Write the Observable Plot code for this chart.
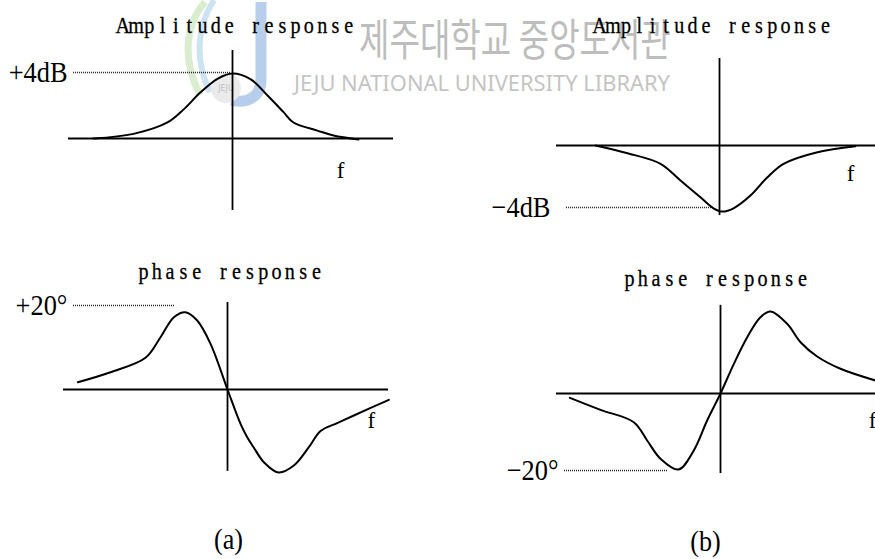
<!DOCTYPE html>
<html>
<head>
<meta charset="utf-8">
<script src="https://cdn.jsdelivr.net/npm/d3@7"></script>
<script src="https://cdn.jsdelivr.net/npm/@observablehq/plot@0.6"></script>
<style>
  html, body { margin: 0; padding: 0; background: #fff; overflow: hidden; }
  #fig { position: relative; width: 875px; height: 559px; }
  #fig > svg { position: absolute; left: 0; top: 0; }
</style>
</head>
<body>
<div id="fig"></div>
<script>
// Boost (a) and cut (b) equaliser responses around the centre frequency.
// f: frequency offset from the centre (arbitrary units), gain in dB, phase in degrees.
const ampA_f   = [-0.853, -0.607, -0.399, -0.301, -0.196, -0.092, 0, 0.110, 0.215, 0.313, 0.374, 0.521, 0.620, 0.773];
const ampA_dB  = [0, 0.28, 0.97, 1.75, 2.8, 3.62, 3.94, 3.6, 2.61, 1.6, 0.97, 0.48, 0.18, -0.06];

const ampB_f   = [-0.761, -0.564, -0.362, -0.239, -0.117, -0.037, 0.018, 0.086, 0.190, 0.294, 0.393, 0.601, 0.834];
const ampB_dB  = [0, -0.50, -1.18, -2.26, -3.34, -4.05, -4.26, -4.05, -3.23, -2.05, -1.18, -0.43, -0.05];

const phA_f    = [-0.918, -0.718, -0.503, -0.411, -0.329, -0.258, -0.186, -0.104, 0, 0.080, 0.121, 0.161, 0.223, 0.313, 0.407, 0.499, 0.571, 0.673, 0.775, 0.990];
const phA_deg  = [1.74, 4.12, 7.55, 12.45, 17.21, 18.40, 16.43, 10.88, 0, -8.17, -11.36, -13.8, -17.31, -19.76, -18.10, -13.74, -9.88, -8.0, -6.19, -2.45];

const phB_f    = [-0.924, -0.736, -0.532, -0.450, -0.368, -0.258, -0.164, -0.082, 0, 0.082, 0.164, 0.245, 0.307, 0.409, 0.491, 0.593, 0.736, 0.951];
const phB_deg  = [-1.12, -4.24, -7.45, -12.2, -16.96, -19.74, -14.8, -7.01, 0, 7.71, 14.62, 19.82, 21.3, 18.1, 13.3, 9.61, 6.42, 3.38];

const titles      = ["Amplitude response", "phase response"];
const levels      = [4, -4, 20, -20];
const levelLabels = ["+4dB", "−4dB", "+20°", "−20°"];
const captions    = ["(a)", "(b)"];
const axisName    = "f";

// Layout of the four panels: scale ranges place each one on the page.
const panels = [
  { f: ampA_f, v: ampA_dB, title: titles[0], level: levels[0], label: levelLabels[0],
    x: [232, 395], y: { domain: [0, 4], range: [138, 72] },
    hAxis: [-1.006, 0.988], vAxis: [-4.36, 5.33], guide: [-0.975, -0.012],
    labelAt: -1.012, titleAt: [0.02, 6.42], fAt: [0.663, -1.94] },
  { f: ampB_f, v: ampB_dB, title: titles[0], level: levels[1], label: levelLabels[1],
    x: [719, 882], y: { domain: [0, -4], range: [145, 207] },
    hAxis: [-1.0, 0.96], vAxis: [-4.52, 5.61], guide: [-0.939, -0.031],
    labelAt: -1.037, titleAt: [-0.043, 7.29], fAt: [0.804, -1.81] },
  { f: phA_f, v: phA_deg, title: titles[1], level: levels[2], label: levelLabels[2],
    x: [227, 390], y: { domain: [0, 20], range: [389, 305] },
    hAxis: [-1.006, 0.988], vAxis: [-19.5, 20.7], guide: [-0.945, -0.319],
    labelAt: -0.982, titleAt: [0.015, 26.4], fAt: [0.883, -7.38],
    caption: captions[0], captionAt: [0.006, -35.7] },
  { f: phB_f, v: phB_deg, title: titles[1], level: levels[3], label: levelLabels[3],
    x: [720, 883], y: { domain: [0, -20], range: [393, 470] },
    hAxis: [-1.006, 0.96], vAxis: [-20.8, 22.9], guide: [-0.957, -0.325],
    labelAt: -0.994, titleAt: [-0.028, 27.8], fAt: [0.933, -7.0],
    caption: captions[1], captionAt: [-0.092, -38.4] }
];

const serif = "'Liberation Serif', 'DejaVu Serif', serif";

function panel(p) {
  const curve = p.f.map((f, i) => ({ f, v: p.v[i] }));
  const marks = [
    // axes through the origin
    Plot.ruleY([{ y: 0, x1: p.hAxis[0], x2: p.hAxis[1] }], { y: "y", x1: "x1", x2: "x2", stroke: "#000", strokeWidth: 2 }),
    Plot.ruleX([{ x: 0, y1: p.vAxis[0], y2: p.vAxis[1] }], { x: "x", y1: "y1", y2: "y2", stroke: "#000", strokeWidth: 1.8 }),
    // dotted guide to the extreme value
    Plot.ruleY([{ y: p.level, x1: p.guide[0], x2: p.guide[1] }], { y: "y", x1: "x1", x2: "x2", stroke: "#222", strokeWidth: 1.3, strokeDasharray: "1,1" }),
    // response curve
    Plot.line(curve, { x: "f", y: "v", curve: "catmull-rom", stroke: "#000", strokeWidth: 2 }),
    Plot.text([{ x: p.titleAt[0], y: p.titleAt[1], t: p.title }], { x: "x", y: "y", text: "t", fontFamily: serif, fontSize: 24, lineAnchor: "bottom", textAnchor: "middle", fill: "#000", stroke: "#000", strokeWidth: 0.3 }),
    Plot.text([{ x: p.labelAt, y: p.level, t: p.label }], { x: "x", y: "y", text: "t", fontFamily: serif, fontSize: 30, textAnchor: "end", lineAnchor: "middle" }),
    Plot.text([{ x: p.fAt[0], y: p.fAt[1], t: axisName }], { x: "x", y: "y", text: "t", fontFamily: serif, fontSize: 23, textAnchor: "middle", lineAnchor: "middle" })
  ];
  if (p.caption) {
    marks.push(Plot.text([{ x: p.captionAt[0], y: p.captionAt[1], t: p.caption }], { x: "x", y: "y", text: "t", fontFamily: serif, fontSize: 29, textAnchor: "middle", lineAnchor: "middle" }));
  }
  const svg = Plot.plot({
    width: 875,
    height: 559,
    x: { domain: [0, 1], range: p.x, axis: null },
    y: { domain: p.y.domain, range: p.y.range, axis: null },
    style: { background: "transparent", overflow: "visible" },
    marks
  });
  monospaceTitles(svg, 13.3, 0.84);
  narrow(svg, levelLabels, 0.88);
  narrow(svg, captions, 0.9);
  return svg;
}

// Narrow the glyphs of the given labels horizontally around their anchor.
function narrow(svg, labels, squeeze) {
  d3.select(svg).selectAll("text").each(function () {
    if (!labels.includes(this.textContent)) return;
    const sel = d3.select(this);
    sel.attr("transform", (sel.attr("transform") || "") + ` scale(${squeeze},1)`);
  });
}

// Set the panel titles in fixed-width cells with narrowed serif glyphs,
// like a half-width typewriter face.
function monospaceTitles(svg, cell, squeeze) {
  d3.select(svg).selectAll("text").each(function () {
    const s = this.textContent;
    if (!titles.includes(s)) return;
    const sel = d3.select(this);
    sel.attr("transform", (sel.attr("transform") || "") + ` scale(${squeeze},1)`)
       .style("white-space", "pre")
       .text(null);
    const chars = Array.from(s);
    const n = chars.length;
    chars.forEach((c, i) => {
      sel.append("tspan").attr("x", ((i + 0.5 - n / 2) * cell) / squeeze).text(c);
    });
  });
}

const fig = document.getElementById("fig");

// Library watermark behind the diagrams
const wm = d3.create("svg").attr("width", 875).attr("height", 559);
const logo = wm.append("g").attr("opacity", 0.5);
logo.append("path").attr("d", "M205,2 C185,25 182,60 200,95").attr("fill", "none").attr("stroke", "#b9dca0").attr("stroke-width", 7);
logo.append("path").attr("d", "M214,0 C196,28 195,62 210,92").attr("fill", "none").attr("stroke", "#9cc8e6").attr("stroke-width", 6);
logo.append("path").attr("d", "M261,2 L261,80 C261,98 245,104 232,100").attr("fill", "none").attr("stroke", "#6f9fd8").attr("stroke-width", 11);
logo.append("circle").attr("cx", 226).attr("cy", 88).attr("r", 15).attr("fill", "#d8d8d8");
logo.append("text").attr("x", 226).attr("y", 91).attr("text-anchor", "middle").attr("font-family", "DejaVu Sans").attr("font-size", 8).attr("fill", "#888").text("JEJU");
wm.append("text").attr("x", 359).attr("y", 56).attr("font-family", "'Noto Sans CJK KR', sans-serif").attr("font-size", 44)
  .attr("fill", "#bdbdbd").attr("textLength", 312).attr("lengthAdjust", "spacingAndGlyphs").text("제주대학교 중앙도서관");
wm.append("text").attr("x", 294).attr("y", 91).attr("font-family", "'Noto Sans', 'DejaVu Sans', sans-serif").attr("font-size", 21)
  .attr("fill", "#c4c4c4").attr("textLength", 376).attr("lengthAdjust", "spacingAndGlyphs").text("JEJU NATIONAL UNIVERSITY LIBRARY");
fig.appendChild(wm.node());

for (const p of panels) fig.appendChild(panel(p));
</script>
</body>
</html>
